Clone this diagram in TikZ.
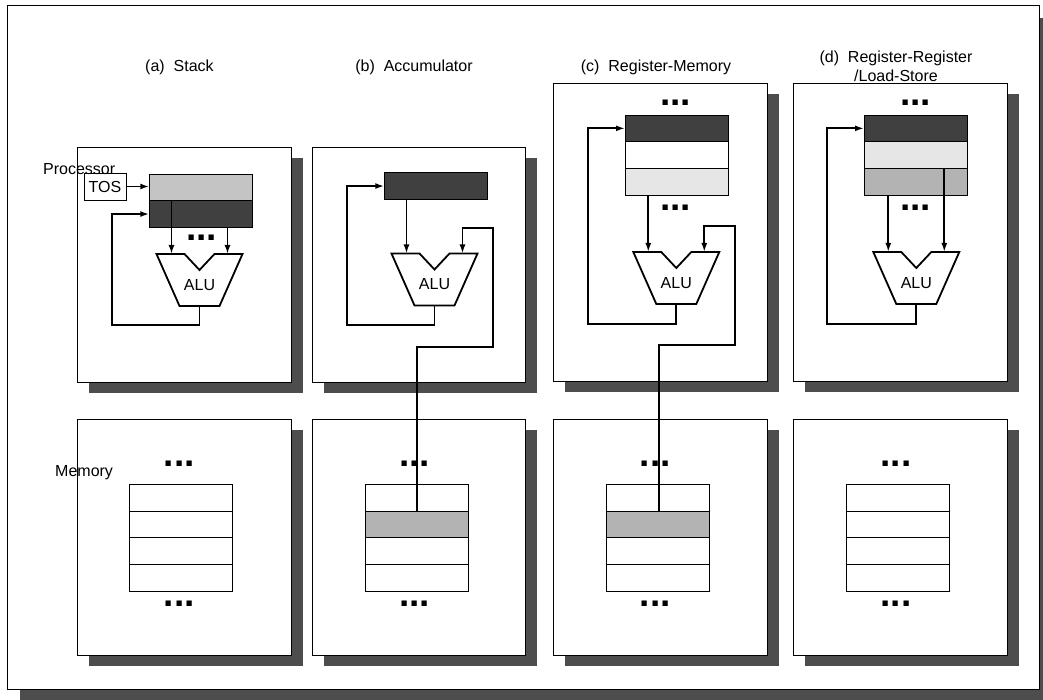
\documentclass[tikz,border=0pt]{standalone}
\usepackage{fontspec}
\setmainfont{Liberation Sans}
\usetikzlibrary{arrows.meta}
\definecolor{shadowc}{RGB}{77,77,77}
\definecolor{regdark}{RGB}{64,64,64}
\definecolor{reglight}{RGB}{196,196,196}
\definecolor{regpale}{RGB}{230,230,230}
\definecolor{regmid}{RGB}{179,179,179}
\newcommand\mypanel[4]{%
  \fill[shadowc] ({#1+12},{#2+11}) rectangle ({#3+12},{#4+11});
  \draw[panel] (#1,#2) rectangle (#3,#4);}
\newcommand\myalu[3]{%
  \draw[alushape] ({#2-43},#3) -- ({#2-15},#3) -- (#2,{#3+16}) -- ({#2+15},#3) -- ({#2+43},#3) -- ({#2+20},{#3+52}) -- ({#2-20},{#3+52}) -- cycle;
  \coordinate (#1-in1) at ({#2-28},#3);
  \coordinate (#1-in2) at ({#2+28},#3);
  \coordinate (#1-out) at (#2,{#3+52});
  \node[lbl] (#1-lbl) at (#2,{#3+31}) {ALU};}
\newcommand\mydots[3]{\node[dotsty, anchor=base] (#1) at (#2,{#3+2.6}) {\smash{...}};}
\newcommand\mymem[3]{% prefix, x, gray fill for 2nd cell
  \node[cell] (#1-m1) at (#2,484.3) {};
  \node[cell, fill=#3, anchor=north] (#1-m2) at (#1-m1.south) {};
  \node[cell, anchor=north] (#1-m3) at (#1-m2.south) {};
  \node[cell, anchor=north] (#1-m4) at (#1-m3.south) {};}
\begin{document}
\begin{tikzpicture}[x=1pt,y=-1pt,
  panel/.style={draw, line width=0.9pt, fill=white},
  wire/.style={line width=1.8pt},
  arr/.style={wire, -{Latex[length=9pt,width=6pt]}},
  alushape/.style={draw, line width=1.8pt, fill=white, line join=miter},
  cell/.style={draw, line width=0.9pt, minimum width=103.5pt, minimum height=26.7pt, inner sep=0pt, outer sep=0pt, anchor=north west},
  lbl/.style={font=\fontsize{16}{19}\selectfont, inner sep=0pt},
  dotsty/.style={font=\fontsize{37}{37}\selectfont\bfseries, inner sep=0pt},
]
\useasboundingbox (0,0) rectangle (1043,700);
% outer frame
\fill[shadowc] (20,18) rectangle (1052,702);
\draw[panel] (7,5) rectangle (1039,689);

% titles
\node[lbl, anchor=west] (ta) at (145,67) {(a)~~Stack};
\node[lbl] (tb) at (414,67) {(b)~~Accumulator};
\node[lbl] (tc) at (656,67) {(c)~~Register-Memory};
\node[lbl, align=center] (td) at (896,66) {(d)~~Register-Register\\/Load-Store};

% panels
\mypanel{77}{147}{291}{382}
\mypanel{312}{147}{525}{382}
\mypanel{553}{83}{767}{381}
\mypanel{793}{83}{1007}{381}
\mypanel{77}{419}{291}{655}
\mypanel{312}{419}{525}{655}
\mypanel{553}{419}{767}{655}
\mypanel{793}{419}{1007}{655}

\node[lbl, anchor=west] (proc) at (43,169) {Processor};
\node[lbl, anchor=west] (mem) at (55,473) {Memory};

% ---- (a) stack
\node[cell, fill=reglight] (a-r1) at (149.3,174) {};
\node[cell, fill=regdark, anchor=north] (a-r2) at (a-r1.south) {};
\node[draw, line width=0.9pt, minimum width=42pt, minimum height=27pt, lbl] (a-tos) at (105,186.5) {TOS};
\myalu{a-alu}{199.5}{254}
\mydots{a-d1}{201.7}{238.3}
\draw[arr] (a-tos.east) -- (a-tos.east -| a-r1.west);
\draw[arr] (a-r1.south -| a-alu-in1) -- (a-alu-in1);
\draw[arr] (a-r2.south -| a-alu-in2) -- (a-alu-in2);
\coordinate (a-k1) at (111.7,325);
\draw[arr] (a-alu-out) |- (a-k1) |- (a-r2.west);

% ---- (b) accumulator
\node[cell, fill=regdark] (b-r1) at (384.3,172.7) {};
\myalu{b-alu}{434.5}{253.5}
\draw[arr] (b-r1.south -| b-alu-in1) -- (b-alu-in1);
\coordinate (b-k1) at (346.7,325);
\draw[arr] (b-alu-out) |- (b-k1) |- (b-r1.west);

% ---- (c) register-memory
\node[cell, fill=regdark] (c-r1) at (625,115) {};
\node[cell, fill=white, anchor=north] (c-r2) at (c-r1.south) {};
\node[cell, fill=regpale, anchor=north] (c-r3) at (c-r2.south) {};
\mydots{c-d1}{675.8}{102.7}
\mydots{c-d2}{675.8}{208.3}
\myalu{c-alu}{676.3}{252}
\draw[arr] (c-r3.south -| c-alu-in1) -- (c-alu-in1);
\coordinate (c-k1) at (588.3,324);
\draw[arr] (c-alu-out) |- (c-k1) |- (c-r1.west);

% ---- (d) register-register
\node[cell, fill=regdark] (d-r1) at (864,115) {};
\node[cell, fill=regpale, anchor=north] (d-r2) at (d-r1.south) {};
\node[cell, fill=regmid, anchor=north] (d-r3) at (d-r2.south) {};
\mydots{d-d1}{915.7}{102.7}
\mydots{d-d2}{915.7}{208.3}
\myalu{d-alu}{916.3}{252}
\draw[arr] (d-r3.south -| d-alu-in1) -- (d-alu-in1);
\draw[arr] (d-r3.north -| d-alu-in2) -- (d-alu-in2);
\coordinate (d-k1) at (827.3,324);
\draw[arr] (d-alu-out) |- (d-k1) |- (d-r1.west);

% ---- memories
\mymem{a}{129.3}{white}
\mymem{b}{365}{regmid}
\mymem{c}{606}{regmid}
\mymem{d}{846}{white}
\mydots{a-md1}{179.3}{464.3}
\mydots{a-md2}{179.3}{604.3}
\mydots{b-md1}{414.7}{464.3}
\mydots{b-md2}{414.7}{604.3}
\mydots{c-md1}{655.3}{464.3}
\mydots{c-md2}{655.3}{604.3}
\mydots{d-md1}{896}{464.3}
\mydots{d-md2}{896}{604.3}

% memory operand paths
\coordinate (b-k2) at (417.3,346.7);
\coordinate (b-k3) at (493.3,227.7);
\draw[arr] (b-m2.north -| b-k2) -- (b-k2) -| (b-k3) -| (b-alu-in2);
\coordinate (c-k2) at (659.3,345);
\coordinate (c-k3) at (735,225.7);
\draw[arr] (c-m2.north -| c-k2) -- (c-k2) -| (c-k3) -| (c-alu-in2);
\end{tikzpicture}
\end{document}
